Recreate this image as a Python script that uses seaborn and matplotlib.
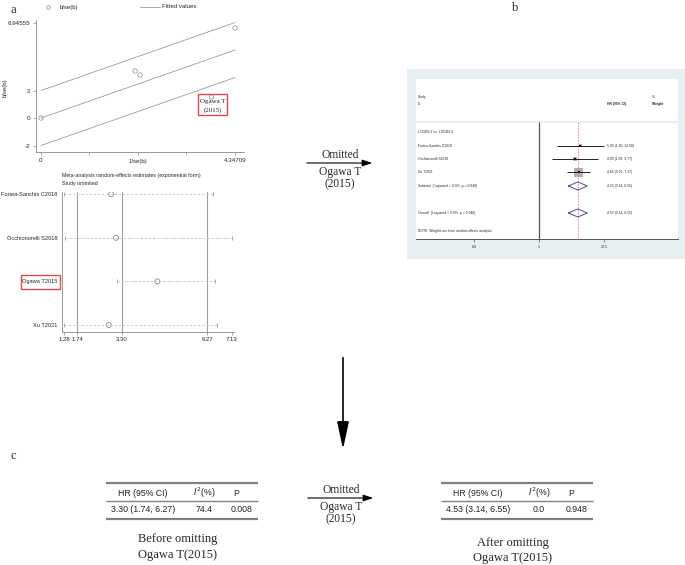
import matplotlib
matplotlib.use("Agg")
import matplotlib.pyplot as plt
import matplotlib.patches as mpatches
import matplotlib.transforms as mtransforms
import numpy as np
import seaborn as sns

# ---- panel a (top): Galbraith plot ----
gal_x = [0.0, 2.11, 2.22, 3.82, 4.34709]
gal_y = [0.0, 3.42, 3.13, 1.53, 6.55]
gal_slope = 1.1377
gal_xmax = 4.34709
gal_yticks = [-2, 0, 2, 6.94555]
gal_ytick_labels = ["-2", "0", "2", "6.94555"]

# ---- panel a (bottom): leave-one-out estimates ----
loo_study = ["Fortea-Sanchis C2018", "Occhionorelli S2018", "Ogawa T2015", "Xu T2021"]
loo_est = [2.92, 3.09, 4.53, 2.84]
loo_lo = [1.28, 1.31, 3.14, 1.28]
loo_hi = [6.47, 7.13, 6.55, 6.60]
loo_ref = [1.74, 3.30, 6.27]
loo_ticks = [1.28, 1.74, 3.30, 6.27, 7.13]

# ---- panel b: forest plot after omitting Ogawa T (2015) ----
fp_study = ["Fortea-Sanchis C2018", "Occhionorelli S2018", "Xu T2021"]
fp_hr = [5.00, 4.09, 4.66]
fp_lo = [1.99, 1.68, 3.01]
fp_hi = [12.58, 9.77, 7.17]
fp_weight = [14.6, 17.8, 67.6]
fp_rows = [2, 3, 4]
pool_hr, pool_lo, pool_hi = 4.53, 3.14, 6.55
pool_rows = [5, 7]
pool_labels = ["Subtotal  (I-squared = 0.0%, p = 0.948)", "Overall  (I-squared = 0.0%, p = 0.948)"]
fp_ticks = [0.08, 1, 12.5]
fp_tick_labels = [".08", "1", "12.5"]

# ---- panel c: summary tables ----
tab_header = ["HR (95% CI)", "$I^2$(%)", "P"]
tab_before = ["3.30 (1.74, 6.27)", "74.4", "0.008"]
tab_after = ["4.53 (3.14, 6.55)", "0.0", "0.948"]

sns.set_theme(style="white")
plt.rcParams["font.family"] = ["Liberation Sans", "DejaVu Sans"]
SERIF = ["Liberation Serif", "DejaVu Serif"]

W, H = 685, 565
fig = plt.figure(figsize=(W / 100, H / 100), dpi=100)


def box(x0, y0, x1, y1):
    return [x0 / W, 1 - y1 / H, (x1 - x0) / W, (y1 - y0) / H]


# overlay in pixel coordinates for annotations
ov = fig.add_axes([0, 0, 1, 1], zorder=0)
ov.set_xlim(0, W)
ov.set_ylim(H, 0)
ov.axis("off")

# panel b background
ov.add_patch(mpatches.Rectangle((407, 69), 278, 190, color="#e8eff3", lw=0))

gray = "#8a8a8a"

# ---------- Galbraith ----------
ax1 = fig.add_axes(box(36, 20, 244, 152), zorder=2)
ax1.set_facecolor("none")
xs = np.array([0, gal_xmax])
for off in (2, 0, -2):
    sns.lineplot(x=xs, y=gal_slope * xs + off, ax=ax1, color="#9a9a9a", lw=0.6)
sns.scatterplot(x=gal_x, y=gal_y, ax=ax1, marker="o", s=10, facecolor="none",
                edgecolor="#8a8a8a", linewidth=0.5)
ax1.set_xlim(-0.112, 4.55)
ax1.set_ylim(-2.47, 7.13)
ax1.set_xticks(np.linspace(0, gal_xmax, 5))
ax1.set_xticklabels(["0", "", "", "", "4.34709"])
ax1.set_yticks(gal_yticks)
ax1.set_yticklabels(gal_ytick_labels)
for s in ("top", "right"):
    ax1.spines[s].set_visible(False)
for s in ("left", "bottom"):
    ax1.spines[s].set_color("#888888")
    ax1.spines[s].set_linewidth(0.6)
ax1.tick_params(length=2.5, width=0.5, color="#888888", labelsize=4.5, pad=1.5,
                bottom=True, left=True)
ax1.set_xlabel("")
ax1.set_ylabel("")

ov.text(5, 88, "b/se(b)", rotation=90, fontsize=4.3, ha="center", va="center")
ov.text(138, 162, "1/se(b)", fontsize=4.3, ha="center", va="center")
ov.plot([48], [7], marker="o", ms=2.6, mfc="none", mec=gray, mew=0.5)
ov.text(60, 7, "b/se(b)", fontsize=4.3, va="center")
ov.plot([140, 160], [7, 7], color="#9a9a9a", lw=0.6)
ov.text(162, 7, "Fitted values", fontsize=4.3, va="center")
ov.add_patch(mpatches.Rectangle((198, 94), 29, 21, fill=False, ec="#e8474a", lw=1))
ov.text(212.5, 102, "Ogawa T", fontsize=5, ha="center", va="center", family=SERIF)
ov.text(212.5, 110.5, "(2015)", fontsize=5, ha="center", va="center", family=SERIF)

# ---------- leave-one-out ----------
ax2 = fig.add_axes(box(62, 192, 234, 332), zorder=2)
ax2.set_facecolor("none")
rows = np.arange(1, len(loo_study) + 1)
for r in loo_ref:
    ax2.axvline(r, color="#a0a0a0", lw=0.8)
ax2.hlines(rows, loo_lo, loo_hi, color="#c8c8c8", lw=0.6, ls=(0, (3, 2)))
sns.scatterplot(x=loo_lo + loo_hi, y=list(rows) * 2, ax=ax2, marker="|", s=12,
                color="#9a9a9a", linewidth=0.6)
sns.scatterplot(x=loo_est, y=rows, ax=ax2, marker="o", s=13, facecolor="none",
                edgecolor="#8a8a8a", linewidth=0.6)
ax2.set_xlim(1.21, 7.2)
ax2.set_ylim(4.16, 0.95)
ax2.set_xticks(loo_ticks)
ax2.set_xticklabels([f"{t:.2f}" for t in loo_ticks])
ax2.set_yticks(rows)
ax2.set_yticklabels(loo_study)
for s in ("top", "right"):
    ax2.spines[s].set_visible(False)
for s in ("left", "bottom"):
    ax2.spines[s].set_color("#888888")
    ax2.spines[s].set_linewidth(0.6)
ax2.tick_params(axis="x", length=2, width=0.5, color="#888888", labelsize=4.3, pad=1.5, bottom=True)
ax2.tick_params(axis="y", length=0, labelsize=4.1, pad=3.5)
ax2.set_xlabel("")
ax2.set_ylabel("")
ov.text(62, 176, "Meta-analysis random-effects estimates (exponential form)", fontsize=3.8, va="center")
ov.text(62, 184, "Study ommited", fontsize=3.8, va="center")
ov.add_patch(mpatches.Rectangle((21, 275), 39, 14, fill=False, ec="#e8474a", lw=1))

# ---------- forest plot (panel b) ----------
ax3 = fig.add_axes(box(416, 79, 678, 239), zorder=2)
ax3.set_facecolor("white")
ax3.set_xscale("log")
ax3.set_xlim(0.00835, 223)
ax3.set_ylim(8.93, -2.93)
sep = 0.26
ax3.axhline(sep, color="#e8eff3", lw=1.6)
ax3.vlines(1, sep, 8.93, color="#555555", lw=0.9)
ax3.vlines(pool_hr, sep, 8.93, color="#e07a7a", lw=0.6, ls=(0, (2, 1.5)))
ax3.hlines(fp_rows, fp_lo, fp_hi, color="#222222", lw=0.7)
sns.scatterplot(x=fp_hr, y=fp_rows, ax=ax3, marker="s", size=fp_weight, sizes=(6, 36),
                color="#b0b0b0", linewidth=0, legend=False)
sns.scatterplot(x=fp_hr, y=fp_rows, ax=ax3, marker="s", s=4, color="black", linewidth=0)
for yr in pool_rows:
    ax3.plot([pool_lo, pool_hr, pool_hi, pool_hr, pool_lo],
             [yr, yr - 0.3, yr, yr + 0.3, yr], color="#4a4aa0", lw=0.7)
ax3.set_xticks(fp_ticks)
ax3.set_xticklabels(fp_tick_labels)
ax3.xaxis.set_minor_locator(matplotlib.ticker.NullLocator())
ax3.set_yticks([])
for s in ("top", "right", "left"):
    ax3.spines[s].set_visible(False)
ax3.spines["bottom"].set_color("#555555")
ax3.spines["bottom"].set_linewidth(0.7)
ax3.tick_params(axis="x", length=2.5, width=0.5, color="#555555", labelsize=2.5, pad=2, bottom=True)
ax3.set_xlabel("")
ax3.set_ylabel("")

tr = mtransforms.blended_transform_factory(ax3.transAxes, ax3.transData)
fs = 2.4
ax3.text(0.008, -1.59, "Study", transform=tr, fontsize=fs, va="center")
ax3.text(0.008, -1.07, "ID", transform=tr, fontsize=fs, va="center")
ax3.text(0.729, -1.07, "HR (95% CI)", transform=tr, fontsize=fs, va="center", weight="bold")
ax3.text(0.90, -1.59, "%", transform=tr, fontsize=fs, va="center")
ax3.text(0.90, -1.07, "Weight", transform=tr, fontsize=fs, va="center", weight="bold")
ax3.text(0.008, 1, "LODDS 2 vs. LODDS 0", transform=tr, fontsize=fs, va="center")
for name, hr, lo, hi, yr in zip(fp_study, fp_hr, fp_lo, fp_hi, fp_rows):
    ax3.text(0.008, yr, name, transform=tr, fontsize=fs, va="center")
    ax3.text(0.729, yr, f"{hr:.2f} ({lo:.2f}, {hi:.2f})", transform=tr, fontsize=fs, va="center")
for lab, yr in zip(pool_labels, pool_rows):
    ax3.text(0.008, yr, lab, transform=tr, fontsize=fs, va="center")
    ax3.text(0.729, yr, f"{pool_hr:.2f} ({pool_lo:.2f}, {pool_hi:.2f})", transform=tr,
             fontsize=fs, va="center")
ax3.text(0.008, 8.36, "NOTE: Weights are from random effects analysis", transform=tr,
         fontsize=fs, va="center")

# ---------- labels, arrows ----------
ov.text(13, 10, "a", fontsize=9, ha="center", va="center", family=SERIF)
ov.text(515, 8, "b", fontsize=9, ha="center", va="center", family=SERIF)
ov.text(13, 456, "c", fontsize=9, ha="center", va="center", family=SERIF)


def omitted_arrow(cx, y_line):
    ov.annotate("", xy=(cx + 35, y_line), xytext=(cx - 36, y_line),
                arrowprops=dict(arrowstyle="-|>,head_length=0.6,head_width=0.2",
                                color="black", lw=0.8, mutation_scale=10))
    ov.text(cx, y_line - 8, "Omitted", fontsize=8.3, ha="center", va="center", family=SERIF)
    ov.text(cx, y_line + 9, "Ogawa T", fontsize=8.3, ha="center", va="center", family=SERIF)
    ov.text(cx, y_line + 21, "(2015)", fontsize=8.3, ha="center", va="center", family=SERIF)


omitted_arrow(340, 163)
omitted_arrow(341, 498)

ov.annotate("", xy=(343, 452), xytext=(343, 355),
            arrowprops=dict(arrowstyle="-|>,head_length=1.4,head_width=0.3",
                            color="black", lw=1.2, mutation_scale=12))


def table(x0, vals):
    x1 = x0 + 152
    ov.hlines(483, x0, x1, color="#808080", lw=1.6)
    ov.hlines(501, x0, x1, color="#808080", lw=1.0)
    ov.hlines(519, x0, x1, color="#808080", lw=1.6)
    head_x = [x0 + 37, x0 + 98, x0 + 130]
    val_x = [x0 + 37, x0 + 98, x0 + 136]
    for hx, vx, h, v in zip(head_x, val_x, tab_header, vals):
        ov.text(hx, 493, h, fontsize=6.3, ha="center", va="center", color="#222222")
        ov.text(vx, 510, v, fontsize=6.3, ha="center", va="center", color="#222222")
    return (x0 + x1) / 2


c1 = table(106, tab_before)
ov.text(c1 - 4, 539, "Before omitting", fontsize=9, ha="center", va="center", family=SERIF)
ov.text(c1 - 4, 555, "Ogawa T(2015)", fontsize=9, ha="center", va="center", family=SERIF)
c2 = table(441, tab_after)
ov.text(c2 - 4, 543, "After omitting", fontsize=9, ha="center", va="center", family=SERIF)
ov.text(c2 - 4, 558, "Ogawa T(2015)", fontsize=9, ha="center", va="center", family=SERIF)

fig.savefig("out.png", dpi=100)
